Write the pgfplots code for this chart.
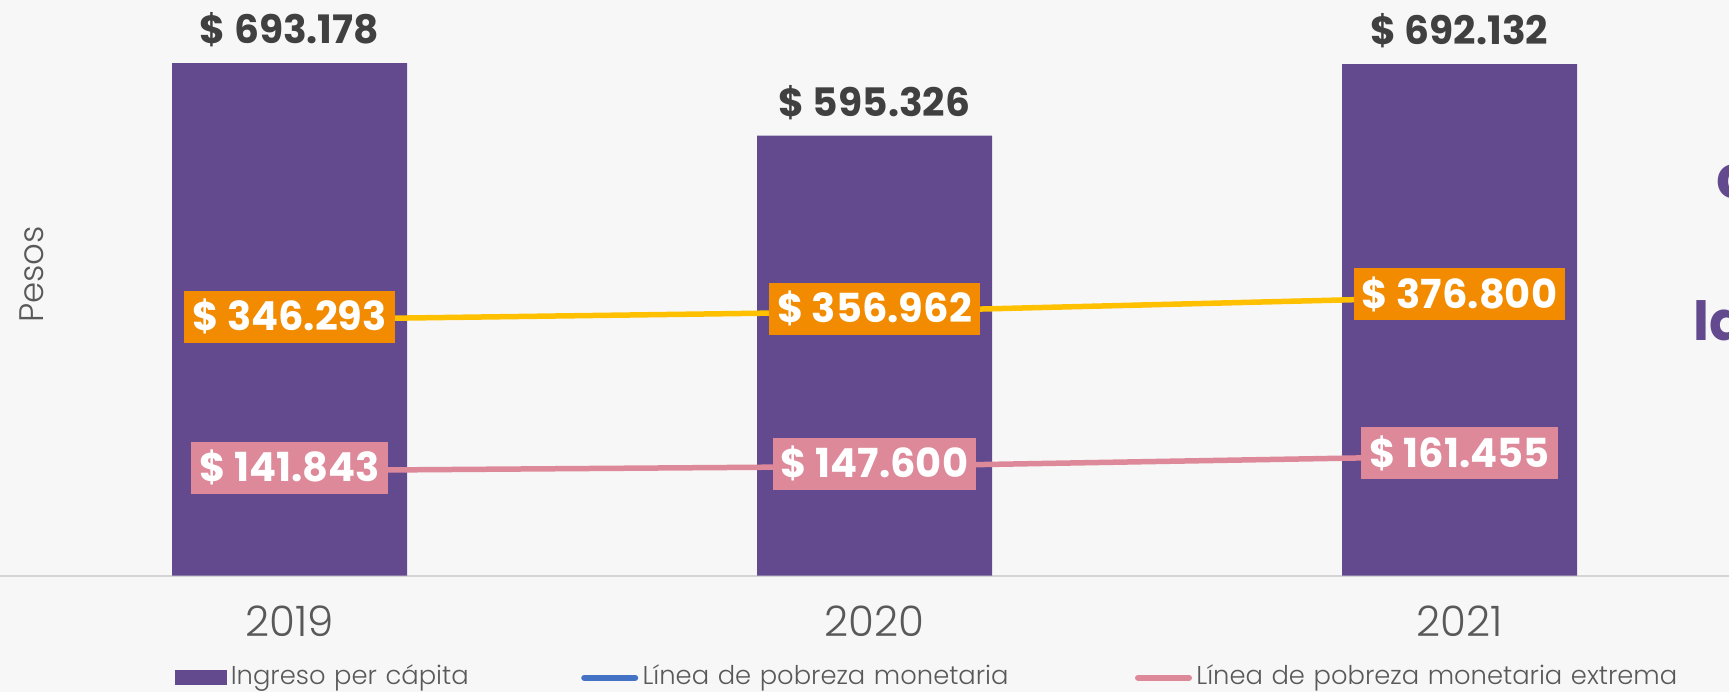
\documentclass[border=0pt]{standalone}
\usepackage{fontspec}
\setmainfont{Poppins}
\newfontfamily\lightfont{Poppins Light}
\usepackage{pgfplots}
\usepackage{pgfplotstable}
\pgfplotsset{compat=1.18}
\definecolor{bg}{HTML}{F7F7F7}
\definecolor{barpurple}{HTML}{634A8F}
\definecolor{labelgray}{HTML}{404040}
\definecolor{tickgray}{HTML}{595959}
\definecolor{axisgray}{HTML}{D4D4D4}
\definecolor{orangebox}{HTML}{F28B00}
\definecolor{yellowline}{HTML}{FFC000}
\definecolor{pinkline}{HTML}{DD899A}
\definecolor{blueline}{HTML}{4472C4}

\pgfplotstableread{
x y lab
0 693178 693.178
1 595326 595.326
2 692132 692.132
}\ingreso
\pgfplotstableread{
x y lab
0 346293 346.293
1 356962 356.962
2 376800 376.800
}\pobreza
\pgfplotstableread{
x y lab
0 141843 141.843
1 147600 147.600
2 161455 161.455
}\extrema

\begin{document}
\begin{tikzpicture}
\fill[bg] (0pt,-58.25pt) rectangle (864.5pt,287.75pt);
\begin{axis}[
  at={(0pt,0pt)}, anchor=south west,
  scale only axis, width=864.5pt, height=287.75pt,
  xmin=-0.4949, xmax=2.4607, ymin=0, ymax=778750,
  clip=false,
  axis x line*=bottom, axis y line*=left,
  x axis line style={draw=axisgray, line width=1pt},
  y axis line style={draw=none},
  ytick=\empty,
  xtick={0,1,2}, xticklabels={2019,2020,2021},
  major tick length=0pt,
  xticklabel style={font=\lightfont\fontsize{21}{24}\selectfont, text=tickgray, anchor=center, yshift=-22.75pt, inner sep=0pt},
  ylabel={Pesos},
  ylabel style={at={(axis description cs:0.0182,0.523)}, anchor=center, font=\lightfont\fontsize{17}{20}\selectfont, text=tickgray, inner sep=0pt},
  legend columns=3,
  legend cell align=left,
  legend style={at={(axis description cs:0.10122,-0.1775)}, anchor=west, draw=none, fill=none, inner sep=0pt, outer sep=0pt,
    font=\lightfont\fontsize{12.9}{14}\selectfont, text=tickgray},
]
\addplot[ybar, bar width=117.5pt, fill=barpurple, draw=none, forget plot,
  point meta=explicit symbolic,
  nodes near coords={\$ \pgfplotspointmeta},
  every node near coord/.append style={font=\bfseries\fontsize{19.6}{20}\selectfont, text=labelgray, inner sep=0pt, text depth=0pt, yshift=9.5pt}]
  table[x=x, y=y, meta=lab] {\ingreso};
\addplot[color=yellowline, line width=2.75pt, mark=none, forget plot,
  point meta=explicit symbolic,
  nodes near coords={\$ \pgfplotspointmeta},
  every node near coord/.append style={fill=orangebox, text=white, font=\bfseries\fontsize{20}{20}\selectfont, inner xsep=4pt, inner ysep=0pt, minimum height=26pt, text height=14pt, text depth=0pt, yshift=-13pt}]
  table[x=x, y=y, meta=lab] {\pobreza};
\addplot[color=pinkline, line width=2.75pt, mark=none, forget plot,
  point meta=explicit symbolic,
  nodes near coords={\$ \pgfplotspointmeta},
  every node near coord/.append style={fill=pinkline, text=white, font=\bfseries\fontsize{20}{20}\selectfont, inner xsep=4pt, inner ysep=0pt, minimum height=26pt, text height=14pt, text depth=0pt, yshift=-13pt}]
  table[x=x, y=y, meta=lab] {\extrema};
\addlegendimage{legend image code/.code={\fill[barpurple] (0pt,-3.6pt) rectangle (25.5pt,3.6pt);}}
\addlegendentry[inner xsep=2pt, inner ysep=0pt, text width=173pt, text height=9pt, text depth=2.5pt]{Ingreso per cápita}
\addlegendimage{legend image code/.code={\path (0pt,0pt) (28.5pt,0pt); \draw[blueline, line width=3pt, line cap=round] (1.5pt,0pt) -- (27pt,0pt);}}
\addlegendentry[inner xsep=2pt, inner ysep=0pt, text width=244pt, text height=9pt, text depth=2.5pt]{Línea de pobreza monetaria}
\addlegendimage{legend image code/.code={\path (0pt,0pt) (28.5pt,0pt); \draw[pinkline, line width=3pt, line cap=round] (1.5pt,0pt) -- (27pt,0pt);}}
\addlegendentry[inner xsep=2pt, inner ysep=0pt, text width=250pt, text height=9pt, text depth=2.5pt]{Línea de pobreza monetaria extrema}
\end{axis}
\node[anchor=base west, inner sep=0pt, text=barpurple, font=\bfseries\fontsize{30}{32}\selectfont] at (858pt,188.75pt) {co};
\node[anchor=base west, inner sep=0pt, text=barpurple, font=\bfseries\fontsize{27}{30}\selectfont] at (846.5pt,117.4pt) {la};
\pgfresetboundingbox
\path[use as bounding box] (0pt,-58.25pt) rectangle (864.5pt,287.75pt);
\end{tikzpicture}
\end{document}
